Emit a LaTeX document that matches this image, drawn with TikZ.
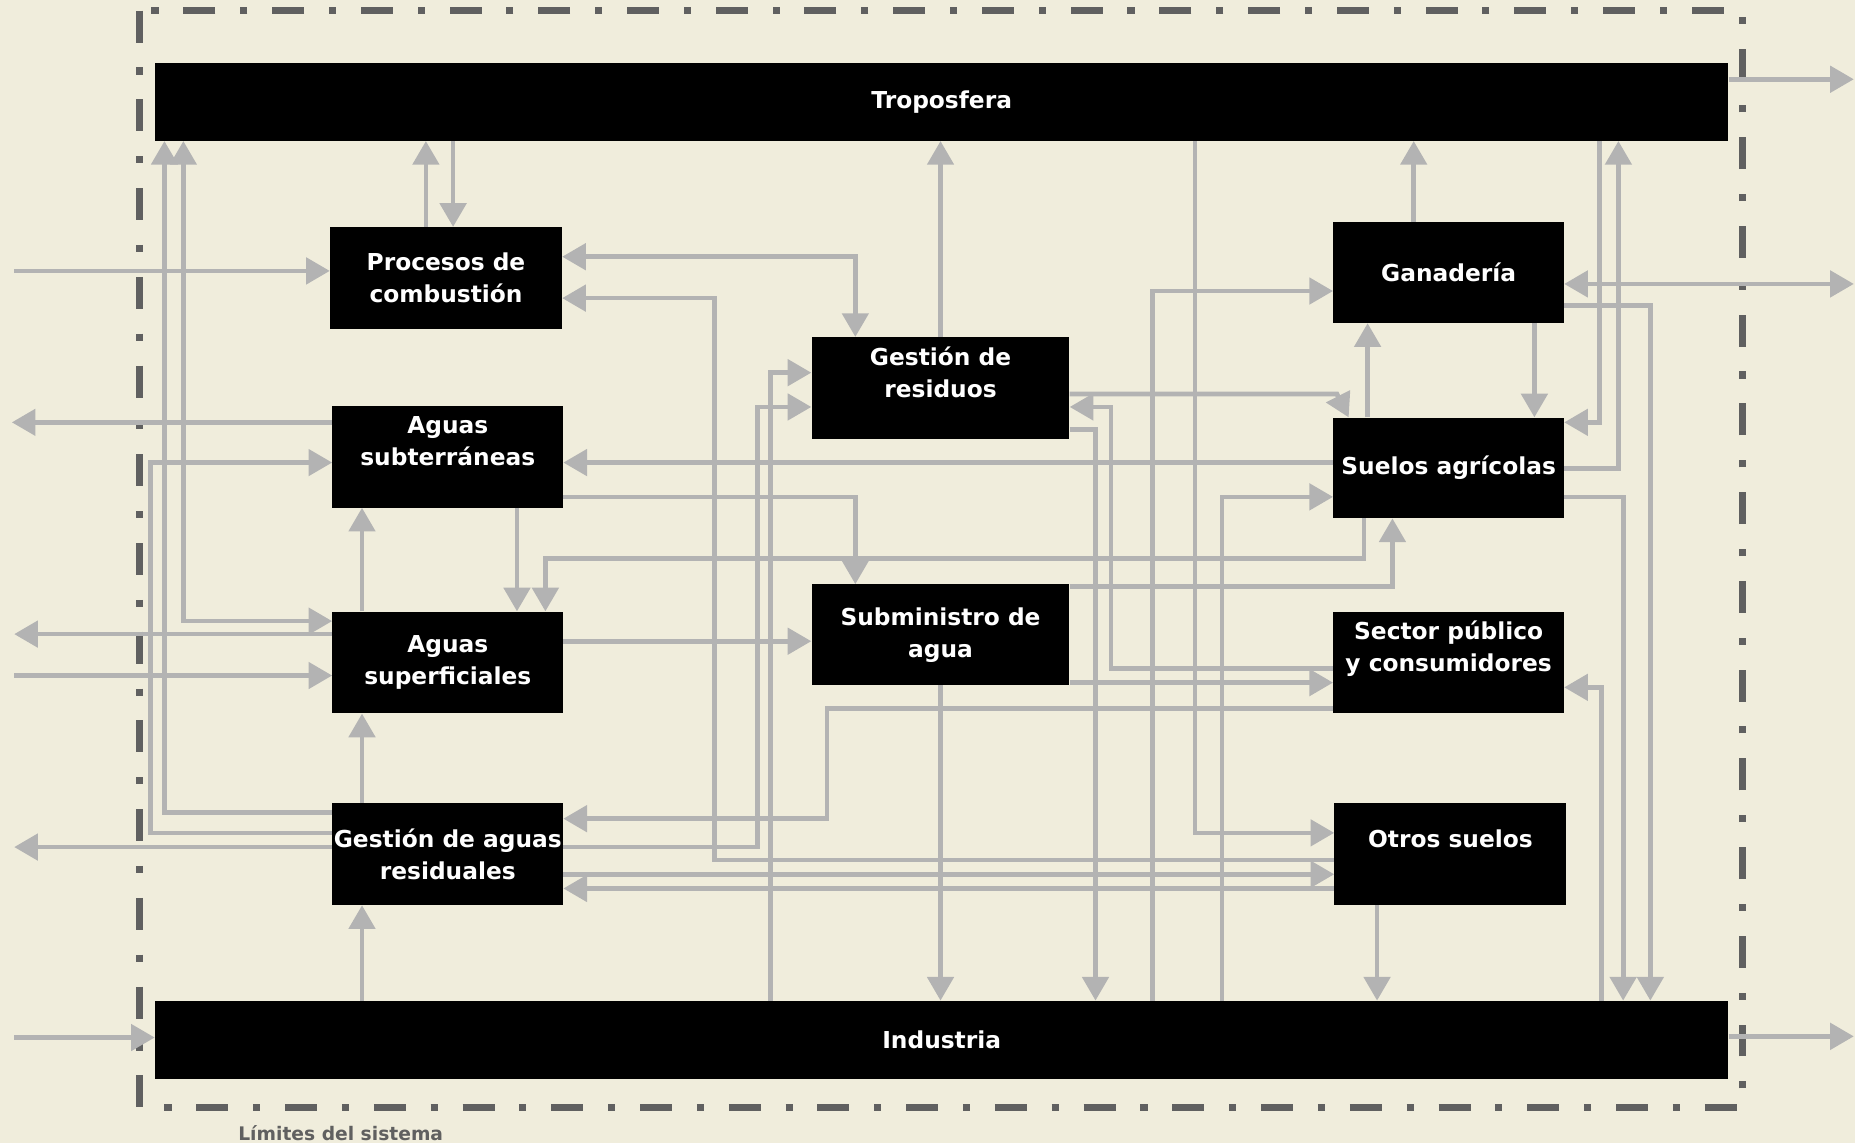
\documentclass[tikz,border=0pt]{standalone}
\usepackage{fontspec}
\setmainfont{DejaVu Sans}
\usetikzlibrary{arrows.meta}
\definecolor{fondo}{HTML}{F0EDDC}
\definecolor{flecha}{HTML}{B3B3B3}
\definecolor{borde}{HTML}{606060}

\begin{document}
\begin{tikzpicture}[x=1pt,y=-1pt,
    >={Triangle[length=20pt,width=22pt]},
    caja/.style={fill=black,text=white,font=\fontsize{19.7}{27}\selectfont\bfseries,align=center,inner sep=0pt,minimum width=195pt,minimum height=86pt},
    barra/.style={caja,minimum width=1330pt,minimum height=66pt},
    flujo/.style={draw=flecha,line width=4pt,->},
    doble/.style={flujo,<->}]
    \path[fill=fondo,use as bounding box] (0,0) rectangle (1568,966);
    \draw[borde,line width=6pt,dash pattern=on 27pt off 21pt on 6pt off 21pt] (118,9) rectangle (1473,936);
    \node[text=borde,font=\fontsize{15.8}{18}\selectfont\bfseries] (limites) at (288,958) {Límites del sistema};

    \node[barra] (tropo) at (796,86) {Troposfera};
    \node[barra] (indus) at (796,879) {Industria};
    \node[caja,minimum width=196pt] (comb) at (377,235) {Procesos de\\combustión};
    \node[caja] (subt) at (378.5,386) {Aguas\\subterráneas\\\mbox{}};
    \node[caja] (superf) at (378.5,560) {Aguas\\superficiales};
    \node[caja] (gar) at (378.5,722) {Gestión de aguas\\residuales};
    \node[caja,minimum width=218pt] (gres) at (795,328) {Gestión de\\residuos\\\mbox{}};
    \node[caja,minimum width=218pt,minimum height=85pt] (sumin) at (795,536.5) {Subministro de\\agua};
    \node[caja,minimum height=85pt] (gan) at (1224.5,230.5) {Ganadería};
    \node[caja,minimum height=85pt] (suelos) at (1224.5,395.5) {Suelos agrícolas};
    \node[caja] (sector) at (1224.5,560) {Sector público\\y consumidores\\\mbox{}};
    \node[caja,minimum width=196pt] (otros) at (1226,722) {Otros suelos\\\mbox{}};

    \coordinate (e1) at (12,229);
    \coordinate (s1) at (10,357);
    \coordinate (s2) at (12,536);
    \coordinate (e2) at (12,571);
    \coordinate (s3) at (12,716);
    \coordinate (e3) at (12,877);
    \coordinate (s4) at (1567,67);
    \coordinate (s5) at (1567,240);
    \coordinate (s6) at (1567,876);

    \draw[flujo] (e1) -- (comb.west |- e1);
    \draw[flujo] (subt.west |- s1) -- (s1);
    \draw[flujo] (superf.west |- s2) -- (s2);
    \draw[flujo] (e2) -- (superf.west |- e2);
    \draw[flujo] (gar.west |- s3) -- (s3);
    \draw[flujo] (e3) -- (indus.west |- e3);
    \draw[flujo] (tropo.east |- s4) -- (s4);
    \draw[doble] (gan.east |- s5) -- (s5);
    \draw[flujo] (indus.east |- s6) -- (s6);

    \draw[flujo] (comb.north -| 360,0) -- (tropo.south -| 360,0);
    \draw[flujo] (tropo.south -| 383,0) -- (comb.north -| 383,0);
    \draw[flujo] (gar.west |- 0,687) -| (tropo.south -| 139,0);
    \draw[doble] (superf.west |- 0,525) -| (tropo.south -| 155,0);
    \draw[flujo] (gar.west |- 0,704) -| (127,391) -- (subt.west |- 0,391);
    \draw[flujo] (superf.north -| 306,0) -- (subt.south -| 306,0);
    \draw[flujo] (gar.north -| 306,0) -- (superf.south -| 306,0);
    \draw[flujo] (indus.north -| 306,0) -- (gar.south -| 306,0);
    \draw[flujo] (subt.south -| 437,0) -- (superf.north -| 437,0);
    \draw[flujo] (suelos.south -| 1153,0) -- (1153,472) -| (superf.north -| 461,0);
    \draw[flujo] (sumin.east |- 0,496) -| (suelos.south -| 1177,0);
    \draw[doble] (comb.east |- 0,217) -| (gres.north -| 723,0);
    \draw[flujo] (otros.west |- 0,727) -| (604,252) -- (comb.east |- 0,252);
    \draw[flujo] (sector.west |- 0,599) -| (699,692) -- (gar.east |- 0,692);
    \draw[flujo] (gar.east |- 0,716) -| (640,344) -- (gres.west |- 0,344);
    \draw[flujo] (indus.north -| 651,0) |- (gres.west |- 0,315);
    \draw[flujo] (gar.east |- 0,739) -- (otros.west |- 0,739);
    \draw[flujo] (otros.west |- 0,751) -- (gar.east |- 0,751);
    \draw[flujo] (suelos.west |- 0,391) -- (subt.east |- 0,391);
    \draw[flujo] (subt.east |- 0,420) -| (sumin.north -| 723,0);
    \draw[flujo] (superf.east |- 0,542) -- (sumin.west |- 0,542);
    \draw[flujo] (gres.north) -- (tropo.south -| gres.north);
    \draw[flujo] (gres.east |- 0,333) -- (1130,333) -- (suelos.north -| 1140,0);
    \draw[flujo] (sector.west |- 0,565) -| (939,344) -- (gres.east |- 0,344);
    \draw[flujo] (gres.east |- 0,363) -| (indus.north -| 926,0);
    \draw[flujo] (sumin.south) -- (indus.north -| sumin.south);
    \draw[flujo] (sumin.east |- 0,577) -- (sector.west |- 0,577);
    \draw[flujo] (indus.north -| 974,0) |- (gan.west |- 0,246);
    \draw[flujo] (tropo.south -| 1010,0) |- (otros.west |- 0,704);
    \draw[flujo] (indus.north -| 1033,0) |- (suelos.west |- 0,420);
    \draw[flujo] (gan.north -| 1195,0) -- (tropo.south -| 1195,0);
    \draw[flujo] (gan.south -| 1297,0) -- (suelos.north -| 1297,0);
    \draw[flujo] (suelos.north -| 1156,0) -- (gan.south -| 1156,0);
    \draw[flujo] (gan.east |- 0,258) -| (indus.north -| 1395,0);
    \draw[flujo] (tropo.south -| 1352,0) |- (suelos.east |- 0,357);
    \draw[flujo] (suelos.east |- 0,396) -| (tropo.south -| 1368,0);
    \draw[flujo] (suelos.east |- 0,420) -| (indus.north -| 1372,0);
    \draw[flujo] (indus.north -| 1354,0) |- (sector.east |- 0,581);
    \draw[flujo] (otros.south -| 1164,0) -- (indus.north -| 1164,0);
\end{tikzpicture}
\end{document}
